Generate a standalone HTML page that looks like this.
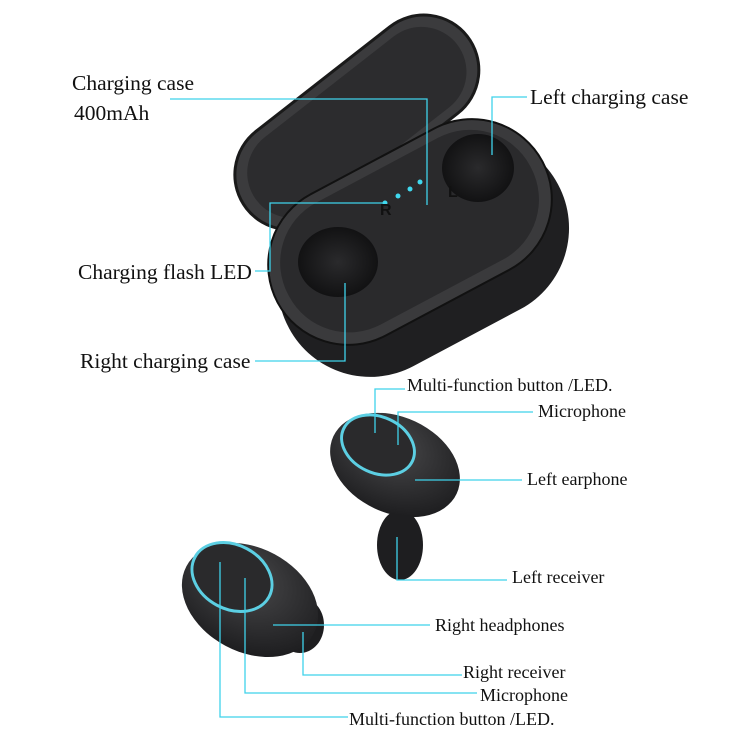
<!DOCTYPE html>
<html><head><style>
body{margin:0;background:#fff}
svg{display:block}
text{font-family:"Liberation Serif",serif;font-size:18px;fill:#111}
.big{font-size:21.5px}
</style></head><body>
<svg width="750" height="750" viewBox="0 0 750 750" xmlns="http://www.w3.org/2000/svg">
<defs>
<radialGradient id="g1" cx="40%" cy="35%" r="70%"><stop offset="0" stop-color="#4a4a4c"/><stop offset="1" stop-color="#1c1c1e"/></radialGradient>
<radialGradient id="g2" cx="50%" cy="50%" r="60%"><stop offset="0" stop-color="#2a2a2c"/><stop offset="1" stop-color="#0d0d0e"/></radialGradient>
</defs>
<!-- lid -->
<g transform="rotate(-38 355 120)">
<rect x="215" y="68" width="280" height="110" rx="55" fill="#3b3b3d" stroke="#1a1a1a" stroke-width="3"/>
<rect x="228" y="78" width="254" height="90" rx="45" fill="#2c2c2e"/>
</g>
<!-- base -->
<g transform="rotate(-28 420 255)">
<rect x="270" y="165" width="305" height="185" rx="92" fill="#1f1f21"/>
<rect x="272" y="150" width="300" height="160" rx="80" fill="#3a3a3c" stroke="#111" stroke-width="2"/>
<rect x="285" y="160" width="274" height="138" rx="68" fill="#2a2a2c"/>
</g>
<ellipse cx="338" cy="262" rx="40" ry="35" fill="url(#g2)"/>
<ellipse cx="478" cy="168" rx="36" ry="34" fill="url(#g2)"/>
<g fill="#40d8ee"><circle cx="385" cy="203" r="2.5"/><circle cx="398" cy="196" r="2.5"/><circle cx="410" cy="189" r="2.5"/><circle cx="420" cy="182" r="2.5"/></g>
<text x="380" y="215" style="fill:#111;font-family:'Liberation Sans',sans-serif;font-size:16px;font-weight:bold">R</text>
<text x="448" y="197" style="fill:#111;font-family:'Liberation Sans',sans-serif;font-size:16px;font-weight:bold">L</text>
<!-- left earphone -->
<ellipse cx="400" cy="545" rx="23" ry="35" fill="#1e1e20"/>
<g transform="rotate(25 395 465)">
<ellipse cx="395" cy="465" rx="68" ry="48" fill="url(#g1)"/>
</g>
<ellipse cx="378" cy="445" rx="38" ry="28" fill="#2a2a2c" stroke="#5ccfe3" stroke-width="3" transform="rotate(25 378 445)"/>
<!-- right earphone -->
<ellipse cx="300" cy="625" rx="24" ry="28" fill="#1e1e20"/>
<g transform="rotate(28 250 600)">
<ellipse cx="250" cy="600" rx="72" ry="52" fill="url(#g1)"/>
</g>
<ellipse cx="232" cy="577" rx="42" ry="32" fill="#2a2a2c" stroke="#5ccfe3" stroke-width="3" transform="rotate(28 232 577)"/>
<!-- leader lines -->
<g stroke="#3fd2ea" stroke-width="1.3" fill="none">
<polyline points="170,99 427,99 427,205"/>
<polyline points="527,97 492,97 492,155"/>
<polyline points="255,271 270,271 270,203 383,203"/>
<polyline points="255,361 345,361 345,283"/>
<polyline points="405,389 375,389 375,433"/>
<polyline points="533,412 398,412 398,445"/>
<polyline points="522,480 415,480"/>
<polyline points="507,580 397,580 397,537"/>
<polyline points="430,625 273,625"/>
<polyline points="462,675 303,675 303,632"/>
<polyline points="477,693 245,693 245,578"/>
<polyline points="348,717 220,717 220,562"/>
</g>
<text class="big" x="72" y="90">Charging case</text>
<text class="big" x="74" y="120">400mAh</text>
<text class="big" x="530" y="104">Left charging case</text>
<text class="big" x="78" y="279">Charging flash LED</text>
<text class="big" x="80" y="368">Right charging case</text>
<text x="407" y="391">Multi-function button /LED.</text>
<text x="538" y="417">Microphone</text>
<text x="527" y="485">Left earphone</text>
<text x="512" y="583">Left receiver</text>
<text x="435" y="631">Right headphones</text>
<text x="463" y="678">Right receiver</text>
<text x="480" y="701">Microphone</text>
<text x="349" y="725">Multi-function button /LED.</text>
</svg>
</body></html>
